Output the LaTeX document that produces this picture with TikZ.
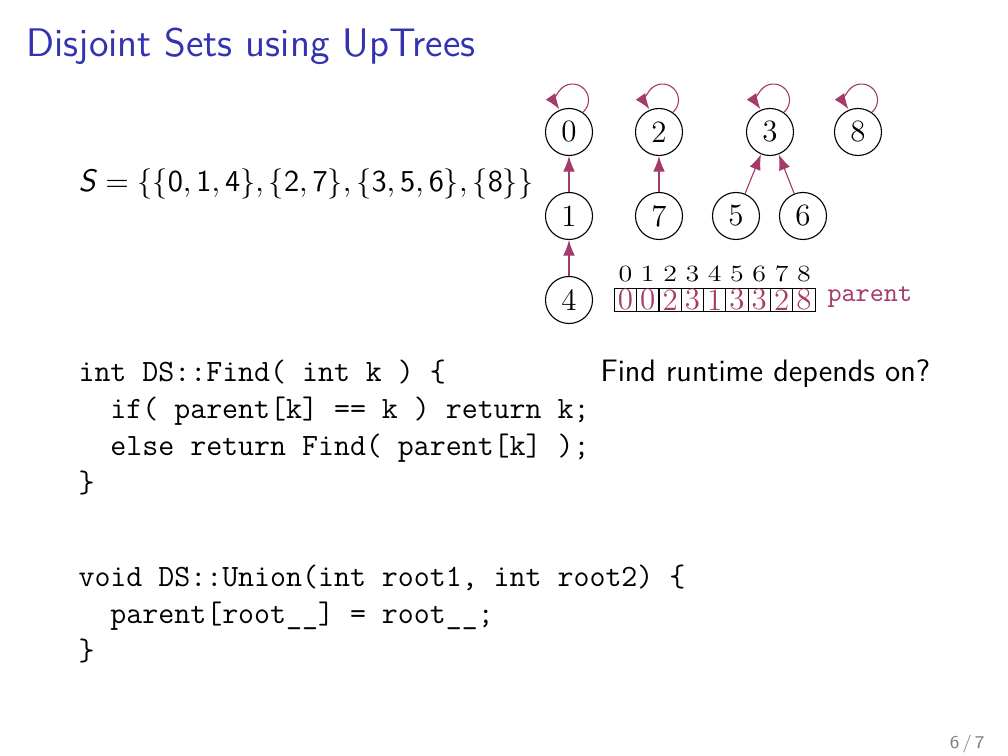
\documentclass[tikz,border=0pt]{standalone}
\usepackage{graphicx}
\usetikzlibrary{arrows.meta}
\definecolor{structblue}{rgb}{0.2,0.2,0.7}
\definecolor{parentred}{RGB}{165,59,104}
\definecolor{footgray}{RGB}{128,128,128}
\newcommand{\elevenpt}{\fontsize{11.2}{13.6}\selectfont}
\begin{document}
\begin{tikzpicture}[x=0.0126984cm,y=0.0126984cm,
  vert/.style={circle,draw,line width=0.4pt,minimum size=0.597cm,inner sep=0pt,font=\elevenpt},
  uplink/.style={draw=parentred,line width=0.4pt,-{Latex[length=5.6pt,width=4.2pt]}},
  selfloop/.style={uplink},
  cell/.style={draw,line width=0.4pt,minimum width=0.2832cm,minimum height=0.297cm,inner sep=0pt,text=parentred,font=\elevenpt},
  idx/.style={inner sep=0pt,font=\elevenpt},
  code/.style={inner sep=0pt,anchor=base west,font=\elevenpt\ttfamily},
  plain/.style={inner sep=0pt,anchor=base west,font=\elevenpt\sffamily}]
\useasboundingbox (0,0) rectangle (1008,756);

% frame title
\node[plain,font=\sffamily\fontsize{14.4}{18}\selectfont,text=structblue] (title) at (26,699) {Disjoint Sets using UpTrees};

% the partition
\node[plain] (setS) at (78,564)
  {$\textsf{\textit{S}}=\{\{\mathsf{0},\mathsf{1},\mathsf{4}\},\{\mathsf{2},\mathsf{7}\},\{\mathsf{3},\mathsf{5},\mathsf{6}\},\{\mathsf{8}\}\}$};

% up-trees
\node[vert] (n0) at (569,624) {0};
\node[vert] (n2) at (659,624) {2};
\node[vert] (n3) at (770,624) {3};
\node[vert] (n8) at (858,624) {8};
\node[vert] (n1) at (569,540) {1};
\node[vert] (n7) at (659,540) {7};
\node[vert] (n5) at (736,540) {5};
\node[vert] (n6) at (803,540) {6};
\node[vert] (n4) at (569,456) {4};

\draw[uplink] (n1) -- (n0);
\draw[uplink] (n4) -- (n1);
\draw[uplink] (n7) -- (n2);
\draw[uplink] (n5) -- (n3);
\draw[uplink] (n6) -- (n3);

% roots point to themselves
\foreach \r in {n0,n2,n3,n8}
  \draw[selfloop] (\r.55) arc[start angle=-50,end angle=215,radius=0.2032cm];

% parent array
\foreach \i/\p in {0/0,1/0,2/2,3/3,4/1,5/3,6/3,7/2,8/8}{
  \node[cell] (c\i) at (625.5+22.3*\i,456) {\p};
  \node[idx] (i\i) at (625.5+22.3*\i,482) {\scalebox{0.9}[0.75]{\i}};
}
\node[inner sep=0pt,anchor=west,font=\ttfamily\fontsize{9.7}{12}\selectfont,text=parentred] (plabel) at (827,459) {parent};

% question
\node[plain] (question) at (600,374) {Find runtime depends on?};

% Find
\node[code] (f1) at (78,374) {int DS::Find( int k ) \{};
\node[code] (f2) at (78,337) {~~if( parent[k] == k ) return k;};
\node[code] (f3) at (78,300) {~~else return Find( parent[k] );};
\node[code] (f4) at (78,263) {\}};

% Union
\node[code] (u1) at (78,169) {void DS::Union(int root1, int root2) \{};
\node[code] (u2) at (78,132) {~~parent[root\_\_] = root\_\_;};
\node[code] (u3) at (78,95) {\}};

% page number
\node[inner sep=0pt,anchor=base east,font=\sffamily\fontsize{6.5}{8}\selectfont,text=footgray] (page) at (985,7) {6\,/\,7};
\end{tikzpicture}
\end{document}
